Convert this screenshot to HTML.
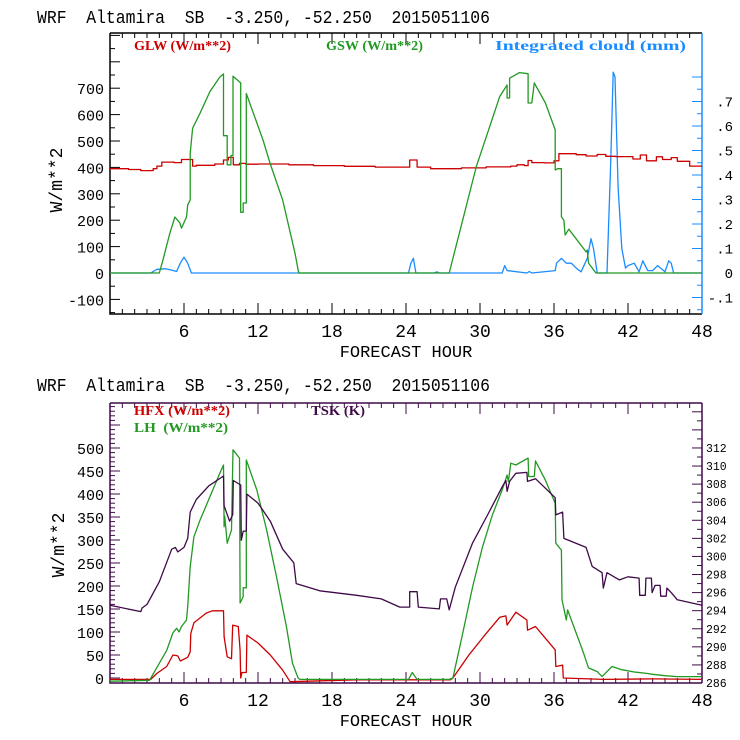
<!DOCTYPE html>
<html><head><meta charset="utf-8"><style>
body{margin:0;background:#fff;}
svg{display:block;font-family:"Liberation Mono",monospace;}
.pre{white-space:pre;}
</style></head><body>
<svg id="chart" width="740" height="740" viewBox="0 0 740 740" xmlns="http://www.w3.org/2000/svg">
<rect width="740" height="740" fill="#fff"/>
<text class="pre" xml:space="preserve" x="37" y="23" font-size="18" textLength="453" lengthAdjust="spacingAndGlyphs">WRF  Altamira  SB  -3.250, -52.250  2015051106</text>
<text class="pre" xml:space="preserve" x="37" y="391" font-size="18" textLength="453" lengthAdjust="spacingAndGlyphs">WRF  Altamira  SB  -3.250, -52.250  2015051106</text>
<g id="top"></g>
<g id="bot"></g>
</svg>
<script>
// ---- data (hour, value) ----
const gswHours=[0,4.0,4.3,4.85,5.26,5.66,5.8,6.2,6.3,6.5,6.5,6.7,7.3,8.1,8.9,9.2,9.2,9.5,9.5,9.8,9.8,9.97,9.97,10.6,10.6,10.8,10.8,11.05,11.05,12.4,13.0,14.0,15.0,15.3,27.5,29.7,30.7,31.6,32.2,32.2,32.4,32.4,33.2,33.9,33.9,34.2,34.4,35.3,36.1,36.1,36.3,36.6,36.6,36.8,36.9,37.2,38.6,38.7,38.8,39.4,48];
const gswVals=[0,0,50,150,212,190,170,212,258,277,453,548,605,687,742,754,520,520,410,410,445,445,745,720,230,230,265,265,680,505,413,276,75,0,0,403,542,668,712,663,663,738,759,755,644,644,720,644,542,390,395,395,213,200,144,166,80,87,38,0,0];
const glwHours=[0,1.5,1.5,2.5,2.5,3.5,3.5,3.8,3.8,4.2,4.2,5.2,5.2,5.8,5.8,6.7,6.7,7.0,7.0,8.5,8.5,9.2,9.2,9.6,9.6,10.0,10.0,10.5,10.5,11.0,11.0,12.0,12.0,14.5,14.5,16.5,16.5,19,19,21.5,21.5,24.3,24.3,24.9,24.9,26,26,27.5,27.5,28.5,28.5,30.5,30.5,32.5,32.5,33.0,33.0,33.6,33.6,33.9,33.9,34.2,34.2,35.2,35.2,36.0,36.0,36.4,36.4,37.8,37.8,38.6,38.6,39.5,39.5,40.2,40.2,41.0,41.0,42.4,42.4,43.0,43.0,43.5,43.5,44.3,44.3,44.8,44.8,45.5,45.5,46.0,46.0,47.0,47.0,48];
const glwVals=[395,395,392,392,388,388,395,395,405,405,420,420,418,418,430,430,405,405,408,408,413,413,428,428,438,438,410,410,415,415,412,412,413,413,410,410,407,407,404,404,401,401,428,428,401,401,395,395,395,395,398,398,402,402,405,405,410,410,407,407,426,426,418,418,417,417,425,425,452,452,448,448,443,443,449,449,442,442,441,441,432,432,447,447,425,425,440,440,430,430,437,437,423,423,405,405,396,396];
const cldHours=[0,3.3,3.8,4.5,5.0,5.4,5.7,6.0,6.3,6.6,24.2,24.4,24.6,24.8,26.3,26.5,26.7,31.8,32.0,32.2,33.8,34.0,34.2,36.1,36.2,36.6,37.0,37.4,37.8,38.2,38.7,39.0,39.2,39.5,39.8,40.3,40.6,40.8,40.95,41.2,41.5,41.8,42.0,42.5,42.9,43.2,43.6,44.0,44.4,45.0,45.3,45.5,45.7,48];
const cldVals=[0,0,0.015,0.017,0.012,0.006,0.04,0.065,0.04,0,0,0.04,0.06,0,0,0.005,0,0,0.03,0.01,0,0.006,0,0.01,0.04,0.06,0.04,0.04,0.02,0.005,0.06,0.14,0.1,0,0,0,0.45,0.82,0.8,0.35,0.1,0.02,0.03,0.04,0.005,0.05,0.01,0.01,0.03,0.005,0.05,0.04,0,0];
const tskHours=[0,2.5,2.6,3,4,5,5.3,5.5,6,6.3,6.5,7,8,9.2,9.25,9.7,9.95,10,10.6,10.65,10.8,11.05,11.1,12,13,14,14.9,15.1,17,20,22,23.5,24.3,24.3,24.9,25,26.7,26.8,27.3,27.5,28,29.4,30.7,31.8,32.1,32.2,32.4,32.9,33.8,33.85,34.5,36.1,36.15,36.7,36.8,38.6,39.1,39.9,40,40.3,41.3,42,42.9,42.95,43.4,43.45,43.9,43.95,44.2,44.6,44.65,45.1,45.15,45.5,46,48];
const tskVals=[294.6,293.9,294.3,294.7,297.2,300.8,301.0,300.5,301.0,302.0,304.9,306.3,307.8,308.9,305.6,303.9,304.6,308.4,307.9,301.8,302.8,302.8,306.9,305.9,303.9,300.8,299.3,297.0,296.2,295.7,295.3,294.4,294.4,296.1,296.1,294.4,294.2,295.3,295.3,294.1,296.6,301.5,304.8,307.7,308.4,307.2,308.3,309.2,309.3,308.3,308.6,306.5,304.6,304.9,302.0,301.0,298.9,298.2,296.5,298.2,297.4,297.75,297.6,295.7,295.7,297.6,297.6,296.0,296.8,296.8,295.6,295.6,296.5,296.0,295.2,294.6];
const lhHours=[0,3.2,4.0,4.6,5.1,5.4,5.6,5.8,6.2,6.3,6.5,6.8,7.3,8.1,8.9,9.2,9.25,9.3,9.5,9.85,9.97,10.5,10.55,10.8,10.8,11.05,11.05,11.9,12.7,13.5,14.3,14.8,15.25,15.4,24.2,24.5,24.9,27.5,27.8,28.6,29.4,30.2,31.0,31.8,32.2,32.3,32.5,32.9,33.9,33.95,34.4,34.5,35.3,36.1,36.15,36.6,36.65,37.0,37.1,38.3,38.5,38.8,39.5,39.9,40.7,41.5,42.5,43.5,44,45,46,48];
const lhVals=[-7,-5,32,60,98,108,100,112,126,155,242,307,343,394,445,463,329,352,293,322,496,478,163,177,196,196,474,409,322,220,112,32,0,-3,-3,12,-3,-3,0,97,198,285,354,409,441,427,467,463,478,438,438,472,430,380,293,278,170,126,148,61,46,22,14,3,25,18,13,10,8,5,3,3];
const hfxHours=[0,3.3,3.8,4.6,5.1,5.5,5.7,6.3,6.5,6.55,6.8,7.8,8.3,9.2,9.25,9.5,9.85,9.95,10.4,10.55,10.6,10.7,11.05,11.1,12,13,14,14.6,20,27.6,27.8,29.1,30.5,31.6,32.1,32.2,32.9,33.8,33.85,34.5,36.1,36.15,36.7,36.75,40,44,48];
const hfxVals=[-3,-3,10,25,50,48,37,45,57,97,120,141,146,146,90,46,42,115,112,60,0,12,12,93,76,50,17,-8,-4,-4,0,50,97,132,135,115,143,126,104,112,61,25,28,0,-3,-2,-3];
const hourTicks=[6,12,18,24,30,36,42,48];
const topLeftTicks=[-100,0,100,200,300,400,500,600,700];
const topRightTicks=[-0.1,0,0.1,0.2,0.3,0.4,0.5,0.6,0.7];
const topRightLabels=["-.1","0",".1",".2",".3",".4",".5",".6",".7"];
const botLeftTicks=[0,50,100,150,200,250,300,350,400,450,500];
const botRightTicks=[286,288,290,292,294,296,298,300,302,304,306,308,310,312];

const NS="http://www.w3.org/2000/svg";
function mk(parent,tag,attrs,text){const e=document.createElementNS(NS,tag);for(const k in attrs)e.setAttribute(k,attrs[k]);if(text!==undefined)e.textContent=text;parent.appendChild(e);return e;}
const L=110,R=702;
const xS=h=>L+h*(R-L)/48;
const yTop=v=>273-v*0.264;
const yCld=v=>273-v*245;
const yBot=v=>678-v*0.46;
const yTsk=v=>683-(v-286)*9.04;

const C={red:"#cc0000",green:"#229922",blue:"#1a8cff",purple:"#3f0a48",blk:"#000"};

function series(g,hs,vs,ys,color,name){
  let d="";
  for(let i=0;i<hs.length;i++){d+=(i?"L":"M")+xS(hs[i]).toFixed(1)+","+ys(vs[i]).toFixed(1);}
  const p=mk(g,"path",{d:d,fill:"none",stroke:color,"stroke-width":"1.3","stroke-linejoin":"round"});
  
  
}
function frame(g,top,bot,color,rightColor){
  const f=mk(g,"path",{d:`M${L},${top}L${R},${top}M${L},${top}L${L},${bot}L${R},${bot}`,stroke:color,"stroke-width":"1.5",fill:"none"});
  
  
  const r=mk(g,"line",{x1:R,y1:top,x2:R,y2:bot,stroke:rightColor,"stroke-width":"1.5"});
  
  
  for(let h=1;h<48;h++){
    const x=xS(h),len=(h%6===0)?11:5;
    mk(g,"line",{x1:x,y1:bot,x2:x,y2:bot-len,stroke:color,"stroke-width":"1"});
    mk(g,"line",{x1:x,y1:top,x2:x,y2:top+len,stroke:color,"stroke-width":"1"});
  }
  hourTicks.forEach(h=>{
    const t=mk(g,"text",{x:xS(h),y:bot+23,"font-size":"18","text-anchor":"middle",fill:"#000"},String(h));
    
    
  });
  const xt=mk(g,"text",{x:406,y:bot+43,"font-size":"17","text-anchor":"middle",fill:"#000"},"FORECAST HOUR");
  
  
}
function legend(g,x,y,color,txt,w,name){
  const t=mk(g,"text",{x:x,y:y,"font-size":"14","font-family":"Liberation Serif, serif","font-weight":"bold",fill:color,textLength:w,lengthAdjust:"spacingAndGlyphs",class:"pre","xml:space":"preserve"},txt);
  
  
}

// ---- top panel ----
const gt=document.getElementById("top");
frame(gt,33,314,C.blk,C.blue);
for(let v=-150;v<=900;v+=50){
  const y=yTop(v);if(y<34||y>313)continue;
  mk(gt,"line",{x1:L,y1:y,x2:L+(v%100===0?10:5),y2:y,stroke:"#000","stroke-width":"1"});
}
topLeftTicks.forEach(v=>{
  const t=mk(gt,"text",{x:104,y:yTop(v)+6,"font-size":"15","text-anchor":"end"},String(v));
  
  
});
for(let k=-3;k<=16;k++){
  const v=k*0.05,y=yCld(v);if(y<34||y>313)continue;
  mk(gt,"line",{x1:R,y1:y,x2:R-(k%2===0?10:5),y2:y,stroke:C.blue,"stroke-width":"1"});
}
topRightTicks.forEach((v,i)=>{
  const t=mk(gt,"text",{x:733,y:yCld(v)+5,"font-size":"14","text-anchor":"end"},topRightLabels[i]);
  
  
});
const yt1=mk(gt,"text",{x:0,y:0,"font-size":"18","text-anchor":"middle",transform:"translate(62,180) rotate(-90)"},"W/m**2");


legend(gt,134,50,C.red,"GLW (W/m**2)",97,"legend-glw");
legend(gt,326,50,C.green,"GSW (W/m**2)",97,"legend-gsw");
legend(gt,495,50,C.blue,"Integrated cloud (mm)",191,"legend-cloud");
series(gt,cldHours,cldVals,yCld,C.blue,"cloud-line");
series(gt,glwHours,glwVals,yTop,C.red,"glw-line");
series(gt,gswHours,gswVals,yTop,C.green,"gsw-line");

// ---- bottom panel ----
const gb=document.getElementById("bot");
frame(gb,403,683,C.purple,C.purple);
for(let v=0;v<=600;v+=10){
  const y=yBot(v);if(y<404||y>682)continue;
  mk(gb,"line",{x1:L,y1:y,x2:L+(v%50===0?10:5),y2:y,stroke:C.purple,"stroke-width":"1"});
}
botLeftTicks.forEach(v=>{
  const t=mk(gb,"text",{x:104,y:yBot(v)+6,"font-size":"15","text-anchor":"end"},String(v));
  
  
});
for(let v=286;v<=316;v+=1){
  const y=yTsk(v);if(y<404||y>683)continue;
  mk(gb,"line",{x1:R,y1:y,x2:R-(v%2===0?10:5),y2:y,stroke:C.purple,"stroke-width":"1"});
}
botRightTicks.forEach(v=>{
  const t=mk(gb,"text",{x:706,y:yTsk(v)+4,"font-size":"11.5"},String(v));
  
  
});
const yt2=mk(gb,"text",{x:0,y:0,"font-size":"18","text-anchor":"middle",transform:"translate(64,545) rotate(-90)"},"W/m**2");


legend(gb,134,415,C.red,"HFX (W/m**2)",96,"legend-hfx");
legend(gb,134,432,C.green,"LH  (W/m**2)",94,"legend-lh");
legend(gb,311,415,C.purple,"TSK (K)",54,"legend-tsk");
series(gb,hfxHours,hfxVals,yBot,C.red,"hfx-line");
series(gb,lhHours,lhVals,yBot,C.green,"lh-line");
series(gb,tskHours,tskVals,yTsk,C.purple,"tsk-line");
</script>
</body></html>
